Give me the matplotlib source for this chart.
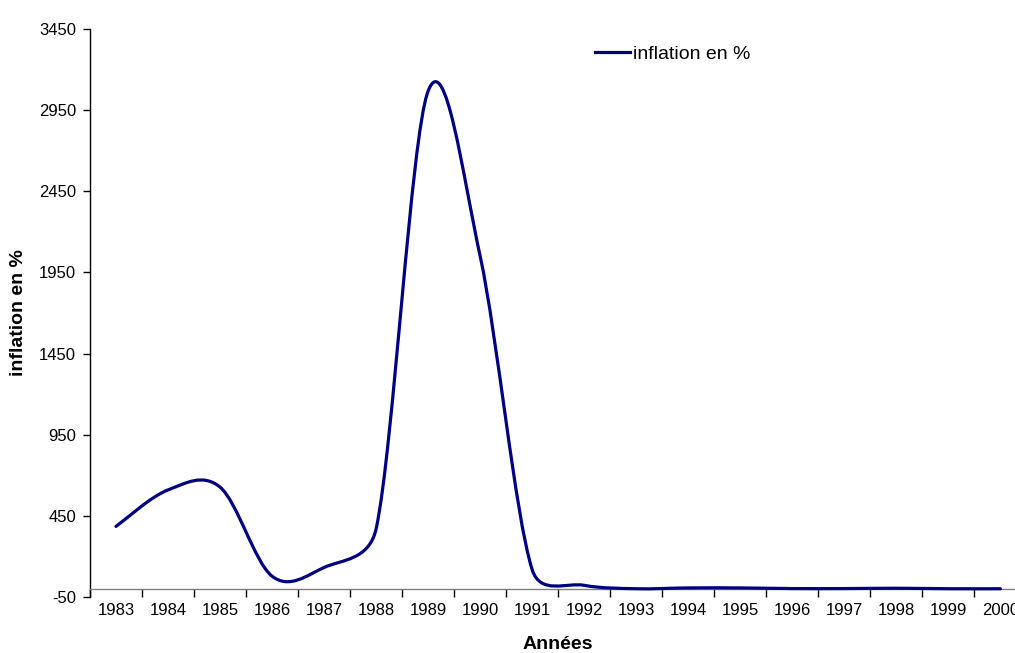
import numpy as np
import matplotlib
matplotlib.use("Agg")
import matplotlib.pyplot as plt
from matplotlib.path import Path
from matplotlib.patches import PathPatch
from matplotlib.lines import Line2D

plt.rcParams['font.family'] = ['Liberation Sans', 'DejaVu Sans']

# annual inflation (%)
years = [str(y) for y in range(1983, 2001)]
inflation = [385, 610, 627, 78, 132, 370, 3068, 2050, 118, 22,
             1, 6, 6, 2, 2, 4, 1, 1]
y_ticks = [-50, 450, 950, 1450, 1950, 2450, 2950, 3450]

LINE_COLOR = "#000080"


def smooth_path(ax, xs, ys):
    # Excel "smoothed line": Bezier handles = (next - prev) / 6,
    # capped at half of the segment length (measured on screen)
    pts = np.column_stack([xs, ys]).astype(float)
    scr = ax.transData.transform(pts)
    n = len(pts)
    dist = lambda i, j: np.hypot(*(scr[j] - scr[i]))
    verts = [pts[0]]
    codes = [Path.MOVETO]
    for i in range(n - 1):
        a, b = max(i - 1, 0), min(i + 2, n - 1)
        d12 = dist(i, i + 1)
        d02 = dist(a, i + 1)
        d13 = dist(i, b)
        f1 = 1 / 6 if d02 / 6 < d12 / 2 else d12 / d02 / 2
        f2 = 1 / 6 if d13 / 6 < d12 / 2 else d12 / d13 / 2
        c1 = pts[i] + (pts[i + 1] - pts[a]) * f1
        c2 = pts[i + 1] - (pts[b] - pts[i]) * f2
        verts += [c1, c2, pts[i + 1]]
        codes += [Path.CURVE4] * 3
    return Path(verts, codes)


fig = plt.figure(figsize=(10.15, 6.53), dpi=100)
W, H = 1015, 653
left, right, top, bottom = 90, 1026.4, 29, 597
ax = fig.add_axes([left / W, 1 - bottom / H, (right - left) / W, (bottom - top) / H])

x = np.arange(len(years))
ax.set_xlim(-0.5, len(years) - 0.5)
ax.set_ylim(-50, 3450)

patch = PathPatch(smooth_path(ax, x, inflation), fill=False, edgecolor=LINE_COLOR,
                  lw=2.3, capstyle="round", joinstyle="round", zorder=3)
ax.add_patch(patch)

# axes styling
ax.spines['top'].set_visible(False)
ax.spines['right'].set_visible(False)
ax.spines['bottom'].set_position(('data', 0))
ax.spines['bottom'].set_color("#808080")
ax.spines['bottom'].set_linewidth(1.0)
ax.spines['left'].set_color("black")
ax.spines['left'].set_linewidth(1.0)

ax.set_yticks(y_ticks)
ax.set_yticklabels([str(v) for v in y_ticks], fontsize=12)
ax.tick_params(axis='y', direction='out', length=5, width=1, color='black', pad=5)

# tick marks between categories, labels centred on categories
ax.set_xticks(np.arange(len(years) + 1) - 0.5)
ax.set_xticklabels([])
ax.set_xticks(x, minor=True)
ax.set_xticklabels(years, minor=True, fontsize=12)
ax.tick_params(axis='x', which='major', direction='out', length=6, width=1, color='black')
ax.tick_params(axis='x', which='minor', length=0, pad=10)

ax.set_xlabel("Années", fontsize=14, fontweight="bold")
ax.xaxis.set_label_coords((558 - left) / (right - left), -(636 - bottom) / (bottom - top))
ax.set_ylabel("inflation en %", fontsize=14, fontweight="bold")
ax.yaxis.set_label_coords(-(90 - 27) / (right - left), 0.5)

handle = Line2D([], [], color=LINE_COLOR, lw=2.3)
fig.legend([handle], ["inflation en %"], loc="center left",
           bbox_to_anchor=(595 / W, 1 - 54 / H), frameon=False, fontsize=14,
           handlelength=1.8, handletextpad=0.15, borderpad=0, borderaxespad=0)

fig.savefig("out.png", dpi=100)
